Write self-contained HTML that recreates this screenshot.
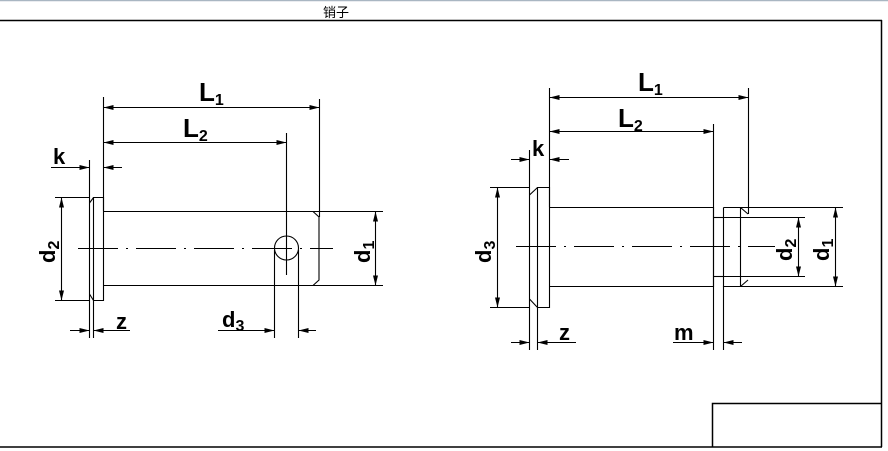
<!DOCTYPE html>
<html><head><meta charset="utf-8"><style>
html,body{margin:0;padding:0;background:#fff;}
svg{display:block;}
text{font-family:"Liberation Sans",Arial,sans-serif;font-weight:bold;fill:#000;}
</style></head><body>
<svg width="888" height="451" viewBox="0 0 888 451" xmlns="http://www.w3.org/2000/svg">
<defs>
<marker id="a" viewBox="0 0 10 6" refX="10" refY="3" markerWidth="10" markerHeight="6" markerUnits="userSpaceOnUse" orient="auto"><path d="M0,0.5 L10,3 L0,5.5z" fill="#000"/></marker>
</defs>
<rect width="888" height="451" fill="#fff"/>
<line x1="0" y1="0.5" x2="888" y2="0.5" stroke="#a9b6c2" stroke-width="1.5"/>
<text x="323" y="17" style="font-family:'Liberation Sans','Noto Sans CJK SC',sans-serif;font-weight:normal;font-size:13px">销子</text>
<g stroke="#000" stroke-width="1.5" fill="none">
<line x1="0" y1="20.5" x2="882" y2="20.5"/>
<line x1="881.5" y1="20" x2="881.5" y2="447"/>
<line x1="0" y1="447" x2="882" y2="447"/>
<polyline points="712.5,447 712.5,403.5 881.5,403.5"/>
</g>

<!-- LEFT DRAWING -->
<g stroke="#000" stroke-width="1.1" fill="none">
<path d="M89.5,203 L93.5,197.5 L103.5,197.5 L103.5,300.5 L93.5,300.5 L89.5,294"/>
<line x1="89.5" y1="160" x2="89.5" y2="338"/>
<line x1="93.5" y1="197" x2="93.5" y2="338"/>
<path d="M103.5,211.5 L313,211.5 L319,217 L319,280 L313,285.5 L103.5,285.5"/>
<line x1="313" y1="211.5" x2="383" y2="211.5"/>
<line x1="313" y1="285.5" x2="383" y2="285.5"/>
<line x1="103.5" y1="97" x2="103.5" y2="211"/>
<line x1="319.5" y1="99" x2="319.5" y2="217"/>
<line x1="286.5" y1="133" x2="286.5" y2="275"/>
<circle cx="286.5" cy="248" r="12"/>
<line x1="274.5" y1="250" x2="274.5" y2="338"/>
<line x1="298.5" y1="250" x2="298.5" y2="338"/>
<line x1="55" y1="197.5" x2="89" y2="197.5"/>
<line x1="55" y1="300.5" x2="89" y2="300.5"/>
<line x1="78" y1="248.5" x2="333" y2="248.5" stroke-dasharray="40,8,2,8"/>
<line x1="103.5" y1="142.5" x2="286.5" y2="142.5" marker-end="url(#a)"/>
<line x1="286.5" y1="142.5" x2="103.5" y2="142.5" marker-end="url(#a)"/>
<line x1="103.5" y1="107.5" x2="319.5" y2="107.5" marker-end="url(#a)"/>
<line x1="319.5" y1="107.5" x2="103.5" y2="107.5" marker-end="url(#a)"/>
<line x1="51" y1="167.5" x2="89.5" y2="167.5" marker-end="url(#a)"/>
<line x1="122" y1="167.5" x2="103.5" y2="167.5" marker-end="url(#a)"/>
<line x1="61.5" y1="248" x2="61.5" y2="197.5" marker-end="url(#a)"/>
<line x1="61.5" y1="248" x2="61.5" y2="300.5" marker-end="url(#a)"/>
<line x1="375.5" y1="248" x2="375.5" y2="211.5" marker-end="url(#a)"/>
<line x1="375.5" y1="248" x2="375.5" y2="285.5" marker-end="url(#a)"/>
<line x1="70" y1="330.5" x2="89.5" y2="330.5" marker-end="url(#a)"/>
<line x1="130" y1="330.5" x2="93.5" y2="330.5" marker-end="url(#a)"/>
<line x1="218" y1="330.5" x2="274.5" y2="330.5" marker-end="url(#a)"/>
<line x1="316" y1="330.5" x2="298.5" y2="330.5" marker-end="url(#a)"/>
</g>
<text x="199" y="101" font-size="26">L<tspan font-size="16" dy="4">1</tspan></text>
<text x="183" y="137" font-size="26">L<tspan font-size="16" dy="4">2</tspan></text>
<text x="53" y="164" font-size="22">k</text>
<text x="116" y="329" font-size="22">z</text>
<text x="222" y="327" font-size="22">d<tspan font-size="16" dy="4">3</tspan></text>
<text transform="translate(55,263) rotate(-90)" font-size="22">d<tspan font-size="16" dy="4">2</tspan></text>
<text transform="translate(370,263) rotate(-90)" font-size="22">d<tspan font-size="16" dy="4">1</tspan></text>

<!-- RIGHT DRAWING -->
<g stroke="#000" stroke-width="1.1" fill="none">
<path d="M529.5,195 L537.5,187.5 L549.5,187.5 L549.5,307.5 L537.5,307.5 L529.5,299"/>
<line x1="529.5" y1="150" x2="529.5" y2="350"/>
<line x1="537.5" y1="187" x2="537.5" y2="350"/>
<line x1="490" y1="187.5" x2="529" y2="187.5"/>
<line x1="490" y1="307.5" x2="529" y2="307.5"/>
<path d="M549.5,207.5 L713.5,207.5 L713.5,286.5 L549.5,286.5"/>
<line x1="713.5" y1="217.5" x2="723.5" y2="217.5"/>
<line x1="713.5" y1="276.5" x2="723.5" y2="276.5"/>
<path d="M723.5,207.5 L740.5,207.5 L748,214 M748,280 L740.5,286.5 L723.5,286.5 L723.5,207.5"/>
<line x1="740.5" y1="207.5" x2="740.5" y2="286.5"/>
<line x1="723.5" y1="217.5" x2="805" y2="217.5"/>
<line x1="723.5" y1="276.5" x2="805" y2="276.5"/>
<line x1="740" y1="207.5" x2="843" y2="207.5"/>
<line x1="740" y1="286.5" x2="843" y2="286.5"/>
<line x1="549.5" y1="88" x2="549.5" y2="207"/>
<line x1="748.5" y1="88" x2="748.5" y2="214"/>
<line x1="713.5" y1="124" x2="713.5" y2="350"/>
<line x1="723.5" y1="286" x2="723.5" y2="350"/>
<line x1="516" y1="246.5" x2="775" y2="246.5" stroke-dasharray="40,8,2,8"/>
<line x1="748.5" y1="97.5" x2="549.5" y2="97.5" marker-end="url(#a)"/>
<line x1="549.5" y1="97.5" x2="748.5" y2="97.5" marker-end="url(#a)"/>
<line x1="549.5" y1="131.5" x2="713.5" y2="131.5" marker-end="url(#a)"/>
<line x1="713.5" y1="131.5" x2="549.5" y2="131.5" marker-end="url(#a)"/>
<line x1="511" y1="159.5" x2="529.5" y2="159.5" marker-end="url(#a)"/>
<line x1="569" y1="159.5" x2="549.5" y2="159.5" marker-end="url(#a)"/>
<line x1="497.5" y1="247" x2="497.5" y2="187.5" marker-end="url(#a)"/>
<line x1="497.5" y1="247" x2="497.5" y2="307.5" marker-end="url(#a)"/>
<line x1="798.5" y1="247" x2="798.5" y2="217.5" marker-end="url(#a)"/>
<line x1="798.5" y1="247" x2="798.5" y2="276.5" marker-end="url(#a)"/>
<line x1="835.5" y1="247" x2="835.5" y2="207.5" marker-end="url(#a)"/>
<line x1="835.5" y1="247" x2="835.5" y2="286.5" marker-end="url(#a)"/>
<line x1="511" y1="342.5" x2="529.5" y2="342.5" marker-end="url(#a)"/>
<line x1="576" y1="342.5" x2="537.5" y2="342.5" marker-end="url(#a)"/>
<line x1="673" y1="342.5" x2="713.5" y2="342.5" marker-end="url(#a)"/>
<line x1="742" y1="342.5" x2="723.5" y2="342.5" marker-end="url(#a)"/>
</g>
<text x="638" y="91" font-size="26">L<tspan font-size="16" dy="4">1</tspan></text>
<text x="618" y="127" font-size="26">L<tspan font-size="16" dy="4">2</tspan></text>
<text x="532" y="156" font-size="22">k</text>
<text x="559" y="340" font-size="22">z</text>
<text x="674" y="340" font-size="22">m</text>
<text transform="translate(491,263) rotate(-90)" font-size="22">d<tspan font-size="16" dy="4">3</tspan></text>
<text transform="translate(792,261) rotate(-90)" font-size="22">d<tspan font-size="16" dy="4">2</tspan></text>
<text transform="translate(829,261) rotate(-90)" font-size="22">d<tspan font-size="16" dy="4">1</tspan></text>
</svg>
</body></html>
